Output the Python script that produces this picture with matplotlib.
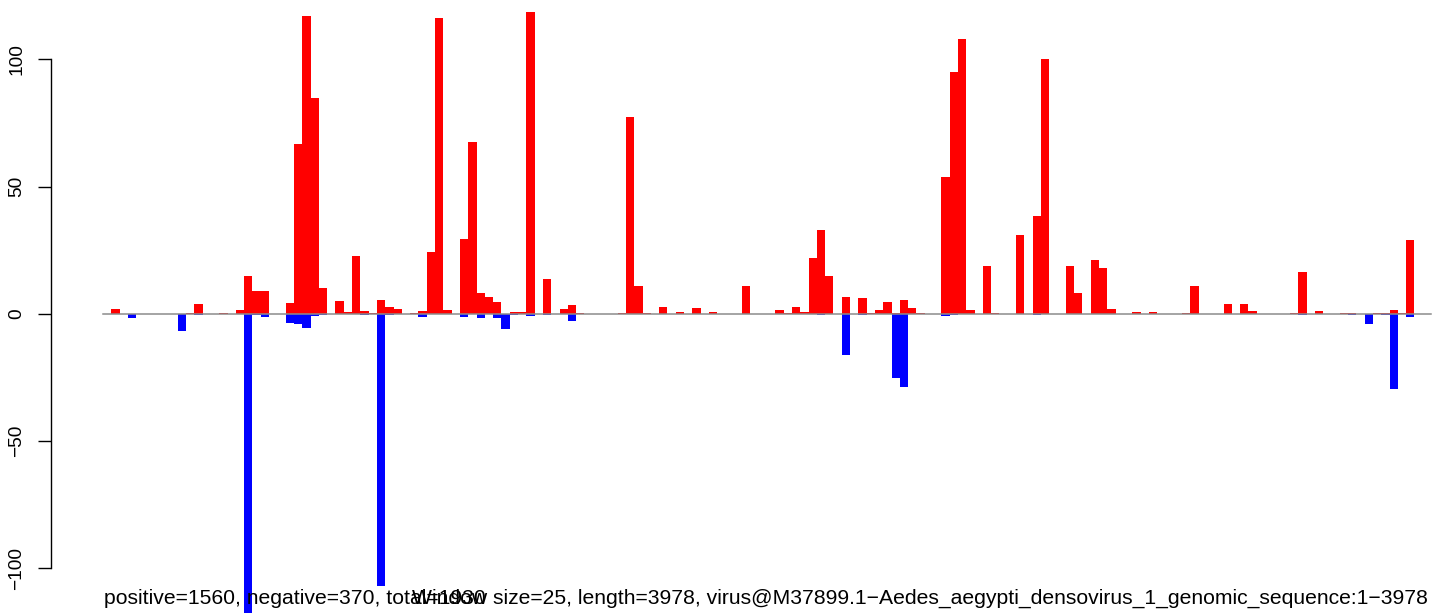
import matplotlib
matplotlib.use("Agg")
import matplotlib.pyplot as plt
import numpy as np

# ---- data (per 25-nt window) ----
window_size = 25
genome_length = 3978

positive_counts = [
    0, 2, 0, 0, 0, 0, 0, 0, 0, 0, 0.5, 3.8, 0, 0, 0.5, 0, 1.5, 14.9, 9.1, 9.1,
    0, 0, 4.3, 66.9, 116.9, 84.9, 10.2, 0, 5.1, 0.8, 22.8, 1.1, 0.3, 5.5, 2.8, 2, 0, 0.4, 1.1, 24.3,
    116.4, 1.5, 0, 29.5, 67.7, 8.3, 6.6, 4.8, 0, 0.8, 0.8, 118.4, 0, 13.7, 0, 2, 3.5, 0.5, 0, 0,
    0, 0, 0.5, 77.5, 10.9, 0.5, 0, 2.8, 0, 0.7, 0, 2.3, 0, 0.9, 0, 0, 0, 10.9, 0, 0,
    0, 1.5, 0.5, 2.8, 0.8, 22, 33, 14.9, 0, 6.6, 0, 6.3, 0.5, 1.5, 4.8, 0.5, 5.5, 2.3, 0.4, 0,
    0, 53.8, 95.2, 108.1, 1.5, 0, 18.9, 0.5, 0, 0, 31, 0, 38.4, 100.3, 0, 0, 18.9, 8.3, 0, 21.2,
    18, 2, 0, 0, 0.8, 0, 0.8, 0, 0, 0, 0.4, 10.9, 0, 0, 0, 3.8, 0, 3.8, 1.1, 0,
    0, 0, 0, 0.4, 16.5, 0, 1.1, 0, 0, 0.4, 0.4, 0, 0, 0.4, 0.4, 1.5, 0.4, 29, 0, 0,
]

negative_counts = [
    0, 0, 0, -1.8, 0, 0, 0, 0, 0, -6.9, 0, -0.3, 0, 0, 0, 0, 0, -120, -0.5, -1.4,
    0, 0, -3.8, -4.2, -5.4, -1, -0.5, 0, 0, 0, 0, -0.5, 0, -106.9, -0.5, 0, 0, 0, -1.2, 0,
    0, 0, 0, -1.2, 0, -1.5, 0, -1.8, -6, -0.5, 0, -1, 0, -0.3, 0, 0, -2.8, 0, 0, 0,
    0, 0, 0, 0, 0, 0, 0, 0, 0, 0, 0, 0, 0, 0, 0, 0, 0, 0, 0, 0,
    0, 0, 0, 0, 0, 0, -0.3, 0, 0, -16.1, 0, -0.3, 0, 0, 0, -25.2, -28.8, 0, 0, 0,
    0, -0.8, -0.3, 0, 0, 0, 0, 0, 0, 0, 0, 0, -0.3, 0, 0, 0, 0, 0, 0, 0,
    0, 0, 0, 0, 0, 0, 0, 0, 0, 0, 0, 0, 0, 0, 0, 0, 0, 0, 0, 0,
    0, 0, 0, 0, -0.3, 0, 0, 0, 0, 0, -0.3, 0, -4.2, 0, -0.4, -29.5, 0, -1.2, 0, 0,
]

yticks = [-100, -50, 0, 50, 100]
left_label = "positive=1560, negative=370, total=1930"
right_label = ("Window size=25, length=3978, "
               "virus@M37899.1\u2212Aedes_aegypti_densovirus_1_genomic_sequence:1\u22123978")

# ---- figure ----
W, H = 1433, 613
fig = plt.figure(figsize=(W / 100, H / 100), dpi=100)
plt.rcParams['font.family'] = ['Liberation Sans', 'DejaVu Sans']

ax_left_px = 51
ax = fig.add_axes([ax_left_px / W, 0, 1 - ax_left_px / W, 1])

n = len(positive_counts)
starts = np.arange(n) * window_size
bar_px = 8.3
units_per_px = window_size / bar_px
x0_px = 103
ax.set_xlim(-(x0_px - ax_left_px) * units_per_px, (W - x0_px) * units_per_px)

zero_px = 313.8
px_per_unit = 2.545
ax.set_ylim(-(H - zero_px) / px_per_unit, zero_px / px_per_unit)

ax.bar(starts, positive_counts, width=window_size, align='edge',
       color='#FF0000', linewidth=0)
ax.bar(starts, negative_counts, width=window_size, align='edge',
       color='#0000FF', linewidth=0)
ax.plot([0, n * window_size], [0, 0], color='#8c8c8c', lw=1.1, zorder=3)

for s in ['top', 'right', 'bottom']:
    ax.spines[s].set_visible(False)
ax.spines['left'].set_bounds(-100, 100)
ax.spines['left'].set_linewidth(1.0)
ax.set_xticks([])
ax.set_yticks(yticks)
ax.set_yticklabels([str(v).replace('-', '\u2212') for v in yticks],
                   rotation=90, va='center', fontsize=13.8)
ax.tick_params(axis='y', direction='out', length=9.4, width=1.0, pad=9)
ax.patch.set_alpha(0)

fig.text(104 / W, 1 - 604 / H, left_label, ha='left', va='baseline', fontsize=15.2)
fig.text(1428 / W, 1 - 604 / H, right_label, ha='right', va='baseline', fontsize=15.2)

fig.savefig('out.png', dpi=100)
